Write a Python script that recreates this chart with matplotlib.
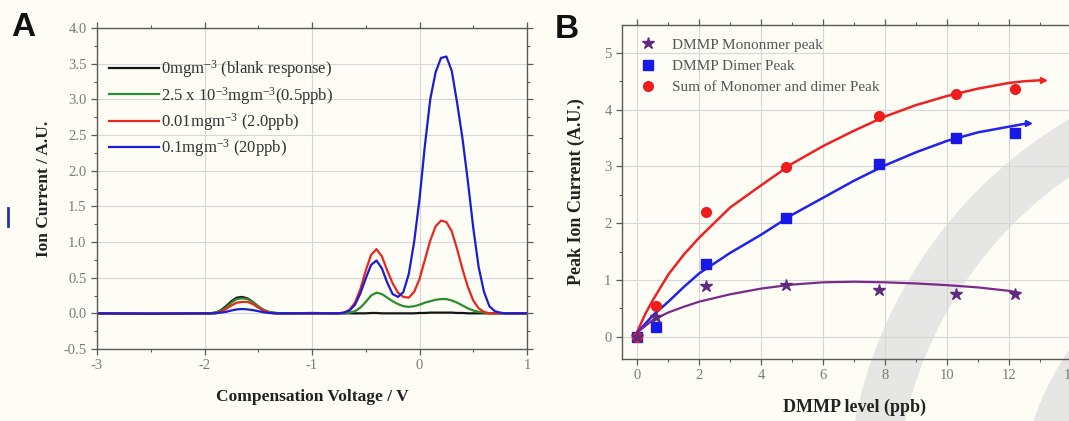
import matplotlib
matplotlib.use("Agg")
import matplotlib.pyplot as plt
from matplotlib.patches import Wedge
from matplotlib.ticker import MultipleLocator, FormatStrFormatter

# ---------------- Panel A data ----------------
cv = [-3.0, -2.5, -2.0, -1.95, -1.9, -1.85, -1.8, -1.75, -1.7, -1.65, -1.6, -1.55,
      -1.5, -1.45, -1.4, -1.35, -1.3, -1.2, -1.0, -0.8, -0.75, -0.7, -0.65, -0.6,
      -0.55, -0.5, -0.45, -0.4, -0.35, -0.3, -0.25, -0.2, -0.15, -0.1, -0.05, 0.0,
      0.05, 0.1, 0.15, 0.2, 0.25, 0.3, 0.35, 0.4, 0.45, 0.5, 0.55, 0.6, 0.65, 0.7,
      0.75, 0.8, 1.0]
blank = [0.0, -0.005, 0.0, 0.0, 0.01, 0.04, 0.10, 0.17, 0.22, 0.23, 0.21, 0.16,
         0.09, 0.04, 0.015, 0.005, 0.0, 0.0, 0.005, 0.0, 0.0, 0.0, 0.0, 0.0,
         0.0, 0.0, 0.005, 0.005, 0.0, 0.0, 0.0, 0.0, 0.0, 0.0, 0.0, 0.005,
         0.005, 0.01, 0.01, 0.01, 0.01, 0.01, 0.005, 0.005, 0.0, 0.0, 0.0, 0.0, 0.0, 0.0,
         0.0, 0.0, 0.0]
ppb05 = [0.0, -0.005, 0.0, 0.0, 0.01, 0.03, 0.08, 0.15, 0.20, 0.21, 0.20, 0.16,
         0.10, 0.05, 0.02, 0.01, 0.0, 0.0, 0.0, 0.0, 0.0, 0.0, 0.01, 0.03,
         0.08, 0.16, 0.25, 0.29, 0.27, 0.22, 0.17, 0.13, 0.10, 0.09, 0.10, 0.12,
         0.15, 0.17, 0.19, 0.20, 0.20, 0.18, 0.15, 0.11, 0.07, 0.04, 0.02, 0.01, 0.0, 0.0,
         0.0, 0.0, 0.0]
ppb2 = [0.0, -0.005, 0.0, 0.0, 0.0, 0.02, 0.06, 0.11, 0.15, 0.16, 0.16, 0.13,
        0.08, 0.04, 0.01, 0.0, 0.0, 0.0, 0.0, 0.0, 0.0, 0.01, 0.05, 0.15,
        0.34, 0.60, 0.82, 0.90, 0.80, 0.60, 0.42, 0.29, 0.23, 0.22, 0.30, 0.48,
        0.75, 1.02, 1.22, 1.30, 1.28, 1.15, 0.90, 0.62, 0.37, 0.18, 0.07, 0.02, 0.0, 0.0,
        0.0, 0.0, 0.0]
ppb20 = [0.0, -0.005, 0.0, 0.0, 0.0, 0.01, 0.02, 0.04, 0.055, 0.06, 0.055, 0.045,
         0.03, 0.015, 0.005, 0.0, 0.0, 0.0, 0.0, 0.0, 0.002, 0.011, 0.041, 0.12,
         0.28, 0.49, 0.68, 0.74, 0.63, 0.43, 0.27, 0.23, 0.30, 0.55, 1.00, 1.60,
         2.35, 3.00, 3.38, 3.58, 3.60, 3.40, 2.95, 2.45, 1.85, 1.20, 0.65, 0.30, 0.10, 0.03,
         0.01, 0.0, 0.0]
labels_a = ["0mgm$^{-3}$ (blank response)",
            "2.5 x 10$^{-3}$mgm$^{-3}$(0.5ppb)",
            "0.01mgm$^{-3}$ (2.0ppb)",
            "0.1mgm$^{-3}$ (20ppb)"]
colors_a = ["#151515", "#2e8b2e", "#e8281e", "#1c1cd0"]

# ---------------- Panel B data ----------------
dmmp = [0, 0.6, 2.2, 4.8, 7.8, 10.3, 12.2]
monomer = [0.0, 0.35, 0.90, 0.91, 0.83, 0.76, 0.75]
dimer = [0.0, 0.17, 1.28, 2.09, 3.05, 3.50, 3.59]
total = [-0.01, 0.55, 2.19, 2.99, 3.89, 4.28, 4.36]

fit_x_sum = [0, 0.25, 0.5, 1, 1.5, 2, 3, 4, 5, 6, 7, 8, 9, 10, 11, 12, 12.5, 13.1]
fit_sum = [0.1, 0.4, 0.65, 1.1, 1.45, 1.75, 2.28, 2.67, 3.05, 3.36, 3.63, 3.88, 4.08,
           4.24, 4.37, 4.47, 4.50, 4.52]
fit_x_dim = [0, 0.5, 1, 1.5, 2, 3, 4, 5, 6, 7, 8, 9, 10, 11, 12, 12.6]
fit_dim = [0.08, 0.38, 0.62, 0.88, 1.12, 1.48, 1.8, 2.15, 2.45, 2.75, 3.02, 3.25,
           3.45, 3.6, 3.7, 3.76]
fit_x_mon = [0, 0.5, 1, 1.5, 2, 3, 4, 5, 6, 7, 8, 9, 10, 11, 12, 12.3]
fit_mon = [0.08, 0.3, 0.43, 0.53, 0.62, 0.75, 0.85, 0.92, 0.96, 0.97, 0.96, 0.94,
           0.91, 0.87, 0.81, 0.78]
labels_b = ["DMMP Mononmer peak", "DMMP Dimer Peak", "Sum of Monomer and dimer Peak"]

# ---------------- style ----------------
SERIF = "Liberation Serif"
plt.rcParams["font.family"] = [SERIF, "DejaVu Serif"]
plt.rcParams["mathtext.fontset"] = "custom"
plt.rcParams["mathtext.rm"] = SERIF
plt.rcParams["mathtext.it"] = SERIF + ":italic"
plt.rcParams["mathtext.bf"] = SERIF + ":bold"
plt.rcParams["axes.unicode_minus"] = False

BG = "#fdfdf6"
W, H = 1069, 421
fig = plt.figure(figsize=(W / 100, H / 100), dpi=100, facecolor=BG)

# background layer in pixel coordinates (watermark arcs, labels)
bg = fig.add_axes([0, 0, 1, 1], zorder=-5)
bg.set_xlim(0, W)
bg.set_ylim(H, 0)
bg.axis("off")
bg.add_patch(Wedge((1300, 510), 454, 0, 360, width=49, facecolor="#e6e6e4",
                   edgecolor="none"))
bg.add_patch(Wedge((1300, 510), 281, 0, 360, width=50, facecolor="#e6e6e4",
                   edgecolor="none"))
bg.plot([8, 8], [208, 226], color="#2030c0", lw=2)
bg.text(23, 27, "A", fontsize=24, fontweight="bold", family="Liberation Sans",
        ha="center", va="center", color="#111111")
bg.text(567, 29, "B", fontsize=24, fontweight="bold", family="Liberation Sans",
        ha="center", va="center", color="#111111")

TICKC = "#7a7a7a"
SPINEC = "#5a5a5a"
GRIDC = "#d6d6d6"


def style_axes(ax):
    ax.set_facecolor("none")
    for s in ax.spines.values():
        s.set_color(SPINEC)
        s.set_linewidth(1.0)
    ax.tick_params(which="both", colors=SPINEC, labelcolor=TICKC, labelsize=10.5,
                   top=True, right=True)
    ax.tick_params(which="major", length=4, width=0.9)
    ax.tick_params(which="minor", length=2.5, width=0.8)
    ax.grid(True, which="major", color=GRIDC, lw=0.8)
    ax.set_axisbelow(True)


# ---------------- Panel A ----------------
axA = fig.add_axes([97 / W, 1 - 349 / H, (527 - 97) / W, (349 - 28) / H])
style_axes(axA)
for ys, c, lab in zip([blank, ppb05, ppb2, ppb20], colors_a, labels_a):
    axA.plot(cv, ys, color=c, lw=1.6, label=lab)
axA.set_xlim(-3, 1)
axA.set_ylim(-0.5, 4.0)
axA.xaxis.set_major_locator(MultipleLocator(1))
axA.xaxis.set_minor_locator(MultipleLocator(0.5))
axA.yaxis.set_major_locator(MultipleLocator(0.5))
axA.yaxis.set_minor_locator(MultipleLocator(0.25))
axA.yaxis.set_major_formatter(FormatStrFormatter("%.1f"))
axA.set_xlabel("Compensation Voltage / V", fontsize=12.5, fontweight="bold",
               color="#222222", labelpad=12)
axA.set_ylabel("Ion Current / A.U.", fontsize=12.5, fontweight="bold",
               color="#222222", labelpad=8)
legA = axA.legend(loc="upper left", bbox_to_anchor=(0.028, 0.905), frameon=False,
                  fontsize=12, handlelength=3.0, handletextpad=0.1,
                  labelspacing=0.26, borderpad=0, borderaxespad=0)
for t in legA.get_texts():
    t.set_color("#333333")

# ---------------- Panel B ----------------
px_per_unit = 30.92
left_px = 622
right_px = 638 + 14.5 * px_per_unit
axB = fig.add_axes([left_px / W, 1 - 359 / H, (right_px - left_px) / W, (359 - 25) / H])
style_axes(axB)
axB.plot(fit_x_sum, fit_sum, color="#ee2222", lw=1.8, zorder=2)
axB.plot(fit_x_dim, fit_dim, color="#2222ee", lw=1.8, zorder=2)
axB.plot(fit_x_mon, fit_mon, color="#7a2a8a", lw=1.6, zorder=2)
axB.plot(fit_x_sum[-1:], fit_sum[-1:], marker=">", ms=4, color="#ee2222", zorder=2)
axB.plot(fit_x_dim[-1:], fit_dim[-1:], marker=">", ms=4, color="#2222ee", zorder=2)
axB.plot(dmmp, monomer, ls="none", marker="*", ms=9, color="#5e2a7e",
         label=labels_b[0], zorder=4)
axB.plot(dmmp, dimer, ls="none", marker="s", ms=6.5, color="#1818e8",
         label=labels_b[1], zorder=3)
axB.plot(dmmp, total, ls="none", marker="o", ms=7, color="#ee1c1c",
         label=labels_b[2], zorder=3)
axB.set_xlim(-0.5, 14.5)
axB.set_ylim(-0.39, 5.49)
axB.xaxis.set_major_locator(MultipleLocator(2))
axB.xaxis.set_minor_locator(MultipleLocator(1))
axB.yaxis.set_major_locator(MultipleLocator(1))
axB.yaxis.set_minor_locator(MultipleLocator(0.5))
axB.set_xlabel("DMMP level (ppb)", fontsize=13, fontweight="bold",
               color="#222222", labelpad=12)
axB.set_ylabel("Peak Ion Current (A.U.)", fontsize=13, fontweight="bold",
               color="#222222", labelpad=14)
legB = axB.legend(loc="upper left", bbox_to_anchor=(0.0395, 0.961), frameon=False,
                  fontsize=11, handlelength=1.0, handletextpad=1.07,
                  labelspacing=0.5, borderpad=0, borderaxespad=0)
for t in legB.get_texts():
    t.set_color("#555555")

fig.savefig("out.png", dpi=100, facecolor=BG)
